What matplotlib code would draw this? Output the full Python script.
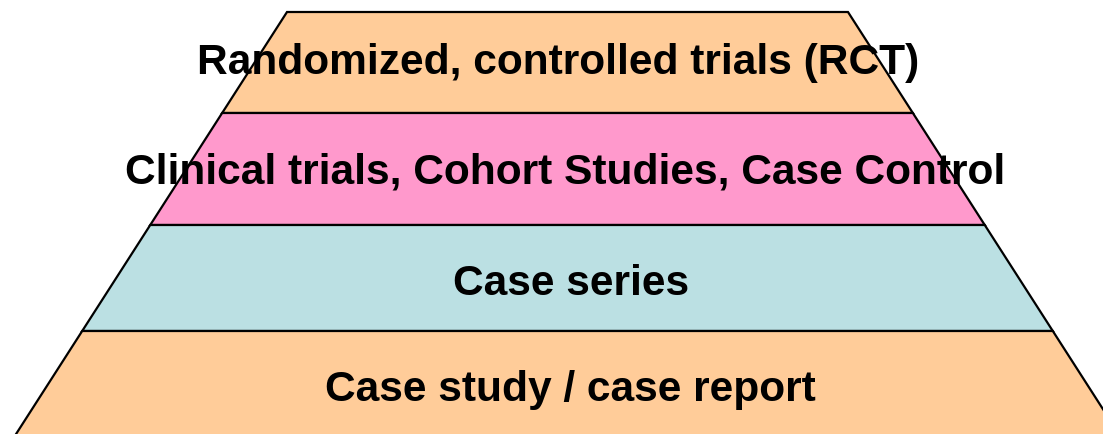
import matplotlib.pyplot as plt
from matplotlib.patches import Polygon

labels = ['Randomized, controlled trials (RCT)',
          'Clinical trials, Cohort Studies, Case Control',
          'Case series',
          'Case study / case report']
colors = ['#FFCC99', '#FF99CC', '#BBE0E3', '#FFCC99']
# layer boundaries (pixel rows, top to bottom)
levels = [12, 113, 225, 331, 440]

cx = 567.5
top_half = 280.5
slope = 0.642
# label placement tweaks
text_dx = [-9, -2, 4, 3]
text_y = [63, 173, 284, 390]

fig = plt.figure(figsize=(11.03, 4.34), dpi=100)
ax = fig.add_axes([0, 0, 1, 1])
ax.set_xlim(0, 1103)
ax.set_ylim(434, 0)
ax.axis('off')

def half_width(y):
    return top_half + slope * (y - levels[0])

for i, (lab, col) in enumerate(zip(labels, colors)):
    y0, y1 = levels[i], levels[i + 1]
    w0, w1 = half_width(y0), half_width(y1)
    pts = [(cx - w0, y0), (cx + w0, y0), (cx + w1, y1), (cx - w1, y1)]
    ax.add_patch(Polygon(pts, closed=True, facecolor=col,
                         edgecolor='black', linewidth=1.6, zorder=1))
    ax.text(cx + text_dx[i], text_y[i], lab, ha='center', va='center',
            fontsize=30.6, fontweight='bold', family='Liberation Sans',
            color='black', zorder=2)

fig.savefig('out.png', dpi=100)
